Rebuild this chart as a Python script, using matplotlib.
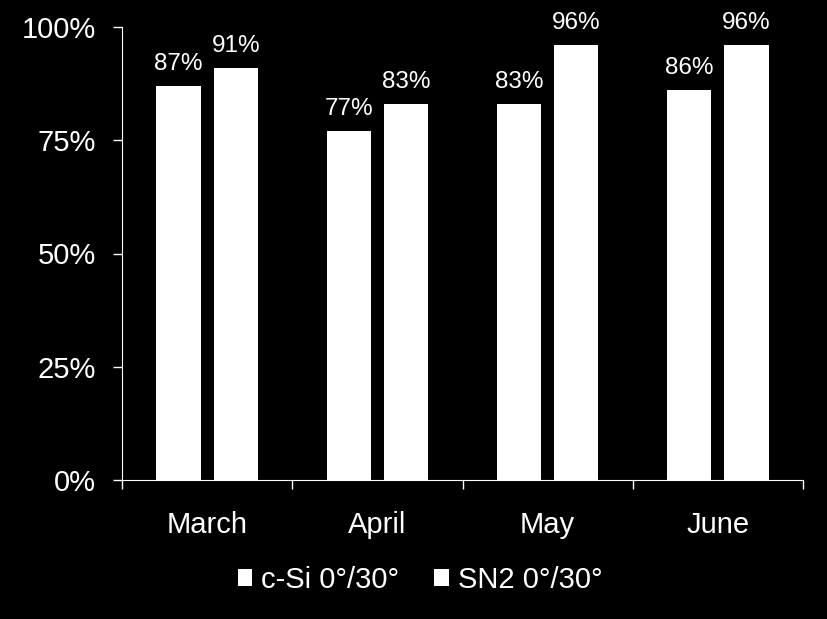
import matplotlib.pyplot as plt
import numpy as np
from matplotlib.patches import Patch

plt.rcParams['font.family'] = ['Liberation Sans', 'DejaVu Sans']

months = ['March', 'April', 'May', 'June']
cSi = [87, 77, 83, 86]
sn2 = [91, 83, 96, 96]
seriesNames = ['c-Si 0°/30°', 'SN2 0°/30°']
yTicks = [0, 25, 50, 75, 100]

fig = plt.figure(figsize=(8.27, 6.19), dpi=100, facecolor='black')
ax = fig.add_axes([122 / 827, 1 - 480 / 619, 681 / 827, 453 / 619])
ax.set_facecolor('black')

x = np.arange(len(months))
width = 0.26
offset = 0.168

bars1 = ax.bar(x - offset, cSi, width, color='white')
bars2 = ax.bar(x + offset, sn2, width, color='white')

# value labels above the bars
for bars in (bars1, bars2):
    for b in bars:
        ax.annotate('{:.0f}%'.format(b.get_height()),
                    (b.get_x() + b.get_width() / 2, b.get_height()),
                    xytext=(0, 8), textcoords='offset points',
                    ha='center', va='bottom', color='white', fontsize=17.5)

ax.set_xlim(-0.5, len(months) - 0.5)
ax.set_ylim(0, 100)
ax.set_yticks(yTicks)
ax.set_yticklabels(['{}%'.format(t) for t in yTicks])

# category labels centred, tick marks on the boundaries
ax.set_xticks(x)
ax.set_xticklabels(months)
ax.set_xticks(np.arange(len(months) + 1) - 0.5, minor=True)
ax.tick_params(axis='x', which='major', length=0, pad=22, labelsize=21, colors='white')
ax.tick_params(axis='x', which='minor', length=6.5, width=1, color='white')
ax.tick_params(axis='y', length=6.5, width=1, colors='white', labelsize=21, pad=12)

for side in ('top', 'right'):
    ax.spines[side].set_visible(False)
for side in ('left', 'bottom'):
    ax.spines[side].set_color('white')

handles = [Patch(facecolor='white'), Patch(facecolor='white')]
fig.legend(handles, seriesNames, loc='center', bbox_to_anchor=(0.508, 1 - 580 / 619),
           ncol=2, frameon=False, fontsize=21, labelcolor='white',
           handlelength=0.5, handleheight=0.5, handletextpad=0.3, columnspacing=1.2)

fig.savefig('out.png', dpi=100, facecolor='black')
